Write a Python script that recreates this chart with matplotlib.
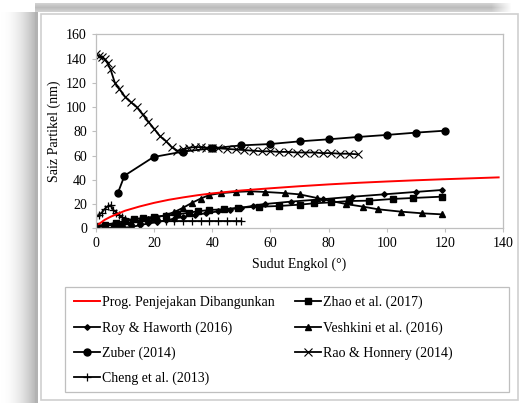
import numpy as np
import matplotlib
matplotlib.use("Agg")
import matplotlib.pyplot as plt
from matplotlib.patches import Rectangle

plt.rcParams['font.family'] = ['Liberation Serif', 'DejaVu Serif']

# Prog. Penjejakan Dibangunkan (red curve)
prog_x = [1, 3, 5, 8, 10, 15, 20, 25, 30, 35, 40, 50, 60, 70, 80, 90, 100, 110, 120, 130, 138.5]
prog_y = [3.5, 7, 9.5, 12.5, 14.5, 18, 21, 23.5, 25.5, 27.3, 28.8, 31.2, 33, 34.7, 36.2, 37.5, 38.6, 39.6, 40.5, 41.3, 42]

# Zhao et al. (2017)
zhao_x = [0, 3, 7, 10, 13, 16, 20, 24, 28, 32, 35, 39, 44, 49, 56, 63, 70, 75, 81, 87, 94, 102, 109, 119]
zhao_y = [2, 3, 4.5, 6, 7.5, 8.5, 9.5, 10.5, 11.5, 12.9, 14, 15.1, 15.7, 17, 17.8, 18.4, 19.5, 20.6, 21.4, 22.5, 22.8, 24.2, 25, 26.1]

# Roy & Haworth (2016)
roy_x = [0, 3, 6, 9, 12, 15, 18, 21, 24, 27, 30, 34, 38, 42, 46, 50, 54, 58, 67, 78, 88, 99, 110, 119]
roy_y = [0, 0, 0.5, 0.5, 1, 2.5, 4, 5, 6.5, 8, 9.5, 11, 12.5, 14, 15.5, 17, 18.5, 20, 22, 24, 26, 28, 30, 31.6]

# Veshkini et al. (2016)
vesh_x = [0, 3, 6, 9, 12, 15, 18, 21, 24, 27, 30, 33, 36, 39, 43, 48, 53, 58, 65, 70, 76, 81, 86, 92, 97, 105, 112, 119]
vesh_y = [1, 2, 3, 4, 5, 6, 7.5, 9, 11, 13.5, 17, 21, 24.5, 27.5, 29, 30, 30.5, 30, 29, 28, 25, 22.5, 20, 17.8, 15.7, 13.7, 12.4, 11.5]

# Zuber (2014)
zuber_x = [7.5, 9.8, 19.8, 29.8, 39.9, 50, 60, 70, 80, 90, 100, 110, 120]
zuber_y = [29, 43.4, 58.8, 63.2, 66, 68.4, 69.5, 71.7, 73.4, 75.3, 77, 78.9, 80.5]

# Rao & Honnery (2014)
rao_x = [0, 1, 2, 3, 4, 5, 6.5, 8, 10, 12, 14, 16, 18, 20, 22, 24, 26, 28, 30, 32, 34, 36, 38, 40,
         42, 45, 48, 51, 54, 57, 60, 63, 66, 69, 72, 75, 78, 81, 84, 87, 90]
rao_y = [143.5, 142, 141, 139.5, 136, 131, 120, 115, 108.5, 104, 100, 94, 88, 82, 76, 72, 67, 64, 65, 66.5,
         67, 67, 66.5, 66, 66, 65.5, 65, 64.5, 64, 63.5, 63.5, 63, 63, 62.5, 62.5, 62.5, 62, 62, 61.5, 61.5, 61]

# Cheng et al. (2013)
cheng_x = [0, 1, 2, 3, 4, 5, 6, 7, 8, 9, 10, 12.5, 15, 18, 21, 24, 27, 30, 33, 36, 39, 42, 45, 48, 50]
cheng_y = [10, 11, 13, 16, 18, 19, 15, 13, 11, 9, 8, 7, 6.5, 6, 6, 6, 6, 6, 6, 6, 6, 6, 6, 6, 6]

W, H = 523, 403
fig = plt.figure(figsize=(W / 100, H / 100), dpi=100)

# background: soft shadow left and top of the chart frame
bg = np.ones((H, W, 3))
for i in range(38):
    bg[12:, i] = 1 - 0.32 * (i / 37) ** 2
bg[12:, 35:38] = 0.70
fade = np.clip((W - 12 - np.arange(W)) / 20, 0, 1)
for j in range(3, 12):
    shade = 0.74 + 0.02 * abs(j - 7)
    row = 1 - (1 - shade) * fade
    bg[j, 35:] = row[35:, None]
bax = fig.add_axes([0, 0, 1, 1], zorder=-2)
bax.imshow(bg, aspect='auto', extent=(0, W, H, 0))
bax.add_patch(Rectangle((38, 12), W - 38, H - 12, facecolor='white', edgecolor='none'))
bax.add_patch(Rectangle((41, 14), 477, 386, facecolor='white', edgecolor='#cfcfcf', lw=1.2))
bax.add_patch(Rectangle((65, 287), 444, 105, facecolor='none', edgecolor='#bfbfbf', lw=0.9))
bax.set_xlim(0, W)
bax.set_ylim(H, 0)
bax.axis('off')

ax = fig.add_axes([96 / W, 1 - 228.3 / H, (503 - 96) / W, (228.3 - 34.3) / H])
lw = 1.3
red, = ax.plot(prog_x, prog_y, color='red', lw=1.4, label='Prog. Penjejakan Dibangunkan', zorder=5)
z, = ax.plot(zhao_x, zhao_y, color='black', lw=lw, marker='s', ms=4.2, label='Zhao et al. (2017)')
r, = ax.plot(roy_x, roy_y, color='black', lw=lw, marker='D', ms=2.8, label='Roy & Haworth (2016)')
v, = ax.plot(vesh_x, vesh_y, color='black', lw=lw, marker='^', ms=4.5, label='Veshkini et al. (2016)')
zu, = ax.plot(zuber_x, zuber_y, color='black', lw=lw, marker='o', ms=5, label='Zuber (2014)')
ra, = ax.plot(rao_x, rao_y, color='black', lw=lw, marker='x', ms=5.5, mew=0.8, label='Rao & Honnery (2014)')
c, = ax.plot(cheng_x, cheng_y, color='black', lw=lw, marker='+', ms=6, mew=0.9, label='Cheng et al. (2013)')

ax.set_xlim(0, 140)
ax.set_ylim(0, 160)
ax.set_xticks(range(0, 141, 20))
ax.set_yticks(range(0, 161, 20))
ax.tick_params(labelsize=10, length=3, color='#bfbfbf', width=0.8)
for s in ax.spines.values():
    s.set_color('#bfbfbf')
    s.set_linewidth(0.9)
ax.set_xlabel('Sudut Engkol (°)', fontsize=10, labelpad=5)
ax.set_ylabel('Saiz Partikel (nm)', fontsize=10, labelpad=4)

handles = [red, r, zu, c, z, v, ra]
leg = fig.legend(handles=handles, labels=[h.get_label() for h in handles], ncol=2,
                 loc='upper left', bbox_to_anchor=(74 / W, 1 - 296 / H),
                 fontsize=10, numpoints=1, handlelength=1.9, handletextpad=0.15,
                 labelspacing=0.85, columnspacing=1.4, borderaxespad=0, borderpad=0,
                 frameon=False)

fig.savefig('out.png', dpi=100)
